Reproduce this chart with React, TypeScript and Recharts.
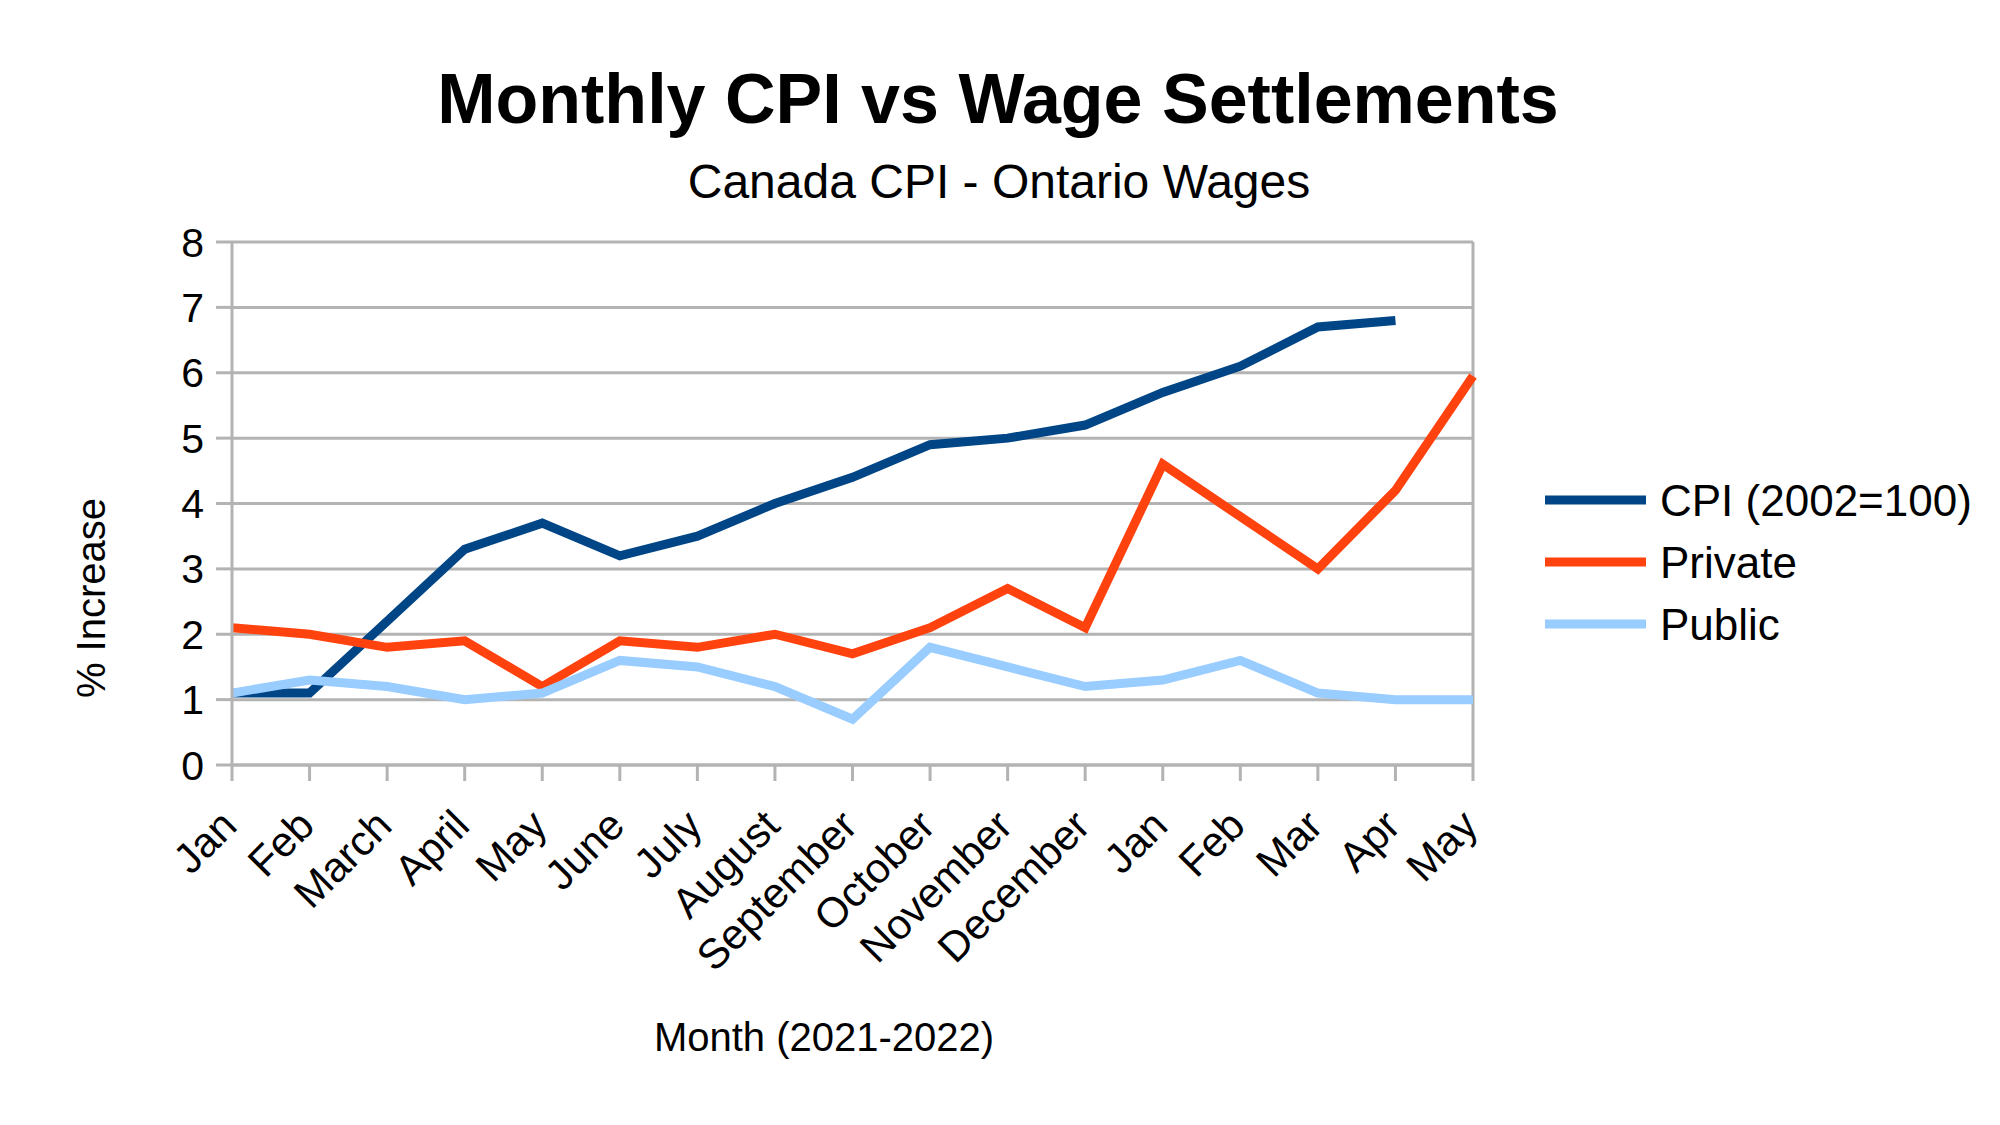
import React from "react";
import { CartesianGrid, Line, LineChart, ReferenceLine, XAxis, YAxis } from "recharts";

// Jan 2021 .. May 2022
const monthKeys = [
  "2021-01", "2021-02", "2021-03", "2021-04", "2021-05", "2021-06", "2021-07", "2021-08",
  "2021-09", "2021-10", "2021-11", "2021-12", "2022-01", "2022-02", "2022-03", "2022-04", "2022-05",
];
const monthLabels = [
  "Jan", "Feb", "March", "April", "May", "June", "July", "August",
  "September", "October", "November", "December", "Jan", "Feb", "Mar", "Apr", "May",
];
const cpi = [1.1, 1.1, 2.2, 3.3, 3.7, 3.2, 3.5, 4.0, 4.4, 4.9, 5.0, 5.2, 5.7, 6.1, 6.7, 6.8, null];
const privateWages = [2.1, 2.0, 1.8, 1.9, 1.2, 1.9, 1.8, 2.0, 1.7, 2.1, 2.7, 2.1, 4.6, 3.8, 3.0, 4.2, 5.95];
const publicWages = [1.1, 1.3, 1.2, 1.0, 1.1, 1.6, 1.5, 1.2, 0.7, 1.8, 1.5, 1.2, 1.3, 1.6, 1.1, 1.0, 1.0];
const yTicks = [0, 1, 2, 3, 4, 5, 6, 7, 8];

const series = [
  { key: "cpi", name: "CPI (2002=100)", color: "#004586" },
  { key: "private", name: "Private", color: "#ff420e" },
  { key: "public", name: "Public", color: "#99ccff" },
];

const data = monthKeys.map((k, i) => ({
  key: k,
  cpi: cpi[i],
  private: privateWages[i],
  public: publicWages[i],
}));

const FONT = "'Liberation Sans', Arial, sans-serif";
const GRID = "#b3b3b3";
const AXIS_Y = 765;

function MonthTick(props: any) {
  const { x, payload } = props;
  const label = monthLabels[monthKeys.indexOf(payload.value)];
  const ax = x + 7;
  const ay = AXIS_Y + 63;
  return (
    <text
      x={ax}
      y={ay}
      transform={`rotate(-45 ${ax} ${ay})`}
      textAnchor="end"
      fontSize={42}
      fontFamily={FONT}
      fill="#000"
    >
      {label}
    </text>
  );
}

export default function App() {
  return (
    <div style={{ position: "absolute", left: 0, top: 0, width: 2000, height: 1125, background: "#fff" }}>
      <LineChart
        width={2000}
        height={1125}
        data={data}
        margin={{ top: 242, right: 527, bottom: 160, left: 132 }}
      >
        <CartesianGrid vertical={false} stroke={GRID} strokeWidth={3} />
        <XAxis
          dataKey="key"
          interval={0}
          height={200}
          tick={<MonthTick />}
          tickSize={16}
          tickLine={{ stroke: GRID, strokeWidth: 3 }}
          axisLine={{ stroke: GRID, strokeWidth: 3 }}
        />
        <YAxis
          domain={[0, 8]}
          ticks={yTicks}
          width={100}
          tickSize={16}
          tickMargin={12}
          tick={{ fontSize: 41, fill: "#000", fontFamily: FONT }}
          tickLine={{ stroke: GRID, strokeWidth: 3 }}
          axisLine={{ stroke: GRID, strokeWidth: 3 }}
        />
        <ReferenceLine x={monthKeys[monthKeys.length - 1]} stroke={GRID} strokeWidth={3} />
        {series.map((s) => (
          <Line
            key={s.key}
            type="linear"
            dataKey={s.key}
            name={s.name}
            stroke={s.color}
            strokeWidth={9}
            dot={false}
            activeDot={false}
            isAnimationActive={false}
          />
        ))}
      </LineChart>
      <svg
        width={2000}
        height={1125}
        style={{ position: "absolute", left: 0, top: 0, pointerEvents: "none" }}
        fontFamily={FONT}
      >
        <text x={998} y={123} textAnchor="middle" fontSize={70} fontWeight="bold">
          Monthly CPI vs Wage Settlements
        </text>
        <text x={999} y={198} textAnchor="middle" fontSize={48}>
          Canada CPI - Ontario Wages
        </text>
        <text x={105} y={598} textAnchor="middle" fontSize={40} transform="rotate(-90 105 598)">
          % Increase
        </text>
        <text x={824} y={1051} textAnchor="middle" fontSize={40}>
          Month (2021-2022)
        </text>
        {series.map((s, i) => (
          <g key={s.key}>
            <line x1={1545} x2={1646} y1={500 + i * 62} y2={500 + i * 62} stroke={s.color} strokeWidth={9} />
            <text x={1660} y={500 + i * 62} dy="0.355em" fontSize={44}>
              {s.name}
            </text>
          </g>
        ))}
      </svg>
    </div>
  );
}
